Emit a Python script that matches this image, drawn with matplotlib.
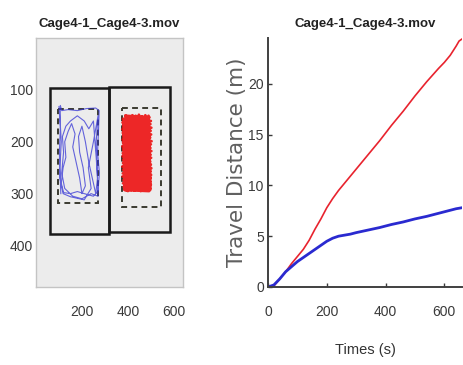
import numpy as np
import matplotlib
matplotlib.use("Agg")
import matplotlib.pyplot as plt
from matplotlib.patches import Rectangle

# ---- data ----
title = "Cage4-1_Cage4-3.mov"

# cages in image pixel coords (x0, y0, x1, y1)
cage_left = (60, 96, 318, 378)
cage_right = (318, 94, 585, 374)
zone_left = (96, 137, 272, 318)
zone_right = (374, 134, 544, 326)

# blue mouse trajectory (image coords)
blue_x = [108, 104, 110, 105, 106, 112, 140, 180, 220, 260, 275, 272, 268, 276, 270, 250,
          210, 180, 150, 120, 110, 118, 130, 125, 140, 155, 170, 160, 175, 190, 200, 215,
          205, 190, 185, 200, 215, 230, 245, 260, 268, 262, 255, 250, 230, 210, 180, 150,
          130, 115, 120, 112, 125, 160, 200, 240, 270, 266, 262, 270, 250, 228, 240, 210,
          150, 118, 104, 102, 106, 100]
blue_y = [300, 250, 200, 160, 130, 140, 138, 140, 136, 135, 140, 180, 220, 260, 295, 305,
          300, 296, 300, 298, 280, 250, 230, 200, 180, 165, 185, 210, 240, 270, 300, 285,
          250, 220, 190, 170, 200, 240, 270, 300, 270, 230, 190, 160, 175, 160, 150, 160,
          170, 190, 220, 260, 290, 305, 310, 300, 305, 250, 200, 150, 200, 250, 290, 312,
          306, 300, 270, 220, 170, 132]

# red mouse trajectory (image coords)
red_x1 = [390, 494, 379, 500, 377, 498, 380, 502, 376, 499, 378, 501, 381, 497, 377, 503,
          379, 500, 376, 498, 380, 502, 378, 499, 377, 501, 381, 497, 379, 500, 376, 502,
          380, 498, 378, 501, 377, 499, 381, 497, 379, 500, 382, 496, 386, 492]
red_y1 = [150, 153, 157, 160, 163, 166, 170, 173, 176, 179, 183, 186, 189, 192, 196, 199,
          202, 205, 209, 212, 215, 218, 222, 225, 228, 231, 235, 238, 241, 244, 248, 251,
          254, 257, 261, 264, 267, 270, 274, 277, 280, 283, 287, 290, 293, 295]
red_x2 = [498, 490, 484, 476, 470, 462, 456, 448, 442, 434, 428, 420, 414, 406, 400, 392, 386, 380]
red_y2 = [292, 150, 294, 149, 293, 151, 295, 148, 292, 150, 294, 149, 293, 152, 295, 150, 292, 156]

# travel distance over time
times = [0, 20, 40, 60, 80, 100, 120, 140, 160, 180, 200, 220, 240, 260, 280, 300,
         340, 380, 420, 460, 500, 540, 580, 600, 620, 640, 650, 660]
dist_red = [0, 0.1, 0.8, 1.5, 2.3, 3.0, 3.7, 4.6, 5.7, 6.7, 7.8, 8.7, 9.5, 10.2, 10.9, 11.6,
            13.0, 14.4, 15.9, 17.3, 18.8, 20.2, 21.5, 22.1, 22.8, 23.7, 24.2, 24.4]
dist_blue = [0, 0.2, 0.8, 1.5, 2.0, 2.5, 2.9, 3.3, 3.7, 4.1, 4.5, 4.8, 5.0, 5.1, 5.2, 5.35,
             5.6, 5.85, 6.15, 6.4, 6.7, 6.95, 7.25, 7.4, 7.55, 7.7, 7.75, 7.8]

narrow = ['Liberation Sans Narrow', 'Liberation Sans', 'DejaVu Sans']
plt.rcParams['font.family'] = narrow
tick_col = '#3a3a3a'

fig = plt.figure(figsize=(4.64, 3.65), dpi=100)

# ---- left panel: arena image with tracks ----
ax1 = fig.add_axes([36 / 464, 78 / 365, 147 / 464, 249 / 365])
ax1.set_facecolor('#ececec')
ax1.set_xlim(0, 640)
ax1.set_ylim(480, 0)
for r in (cage_left, cage_right):
    ax1.add_patch(Rectangle((r[0], r[1]), r[2] - r[0], r[3] - r[1], fill=False,
                            ec='#1a1a1a', lw=1.8))
for r in (zone_left, zone_right):
    ax1.add_patch(Rectangle((r[0], r[1]), r[2] - r[0], r[3] - r[1], fill=False,
                            ec='#3b3b30', lw=1.4, ls=(0, (3, 2.2))))
ax1.plot(np.concatenate([red_x1, red_x2]), np.concatenate([red_y1, red_y2]),
         color='#ee1111', lw=2.0, alpha=0.9)
ax1.plot(blue_x, blue_y, color='#3535d5', lw=0.8, alpha=0.75)
ax1.set_xticks([200, 400, 600])
ax1.set_yticks([100, 200, 300, 400])
ax1.tick_params(length=0, labelsize=10, colors=tick_col)
ax1.tick_params(axis='x', pad=13)
ax1.tick_params(axis='y', pad=2)
for s in ax1.spines.values():
    s.set_color('#c4c4c4')
    s.set_linewidth(1.0)
ax1.set_title(title, fontsize=9.5, fontweight='bold', color='#222222', pad=8)

# ---- right panel: travel distance ----
ax2 = fig.add_axes([268 / 464, 78 / 365, 194 / 464, 249 / 365])
ax2.plot(times, dist_red, color='#e8232e', lw=1.2)
ax2.plot(times, dist_blue, color='#2a2ad0', lw=2.0)
ax2.set_xlim(0, 660)
ax2.set_ylim(0, 24.5)
ax2.set_xticks([0, 200, 400, 600])
ax2.set_yticks([0, 5, 10, 15, 20])
ax2.spines['top'].set_visible(False)
ax2.spines['right'].set_visible(False)
for s in ('left', 'bottom'):
    ax2.spines[s].set_color('#404040')
    ax2.spines[s].set_linewidth(1.4)
ax2.tick_params(direction='in', length=3, width=1, labelsize=10, colors=tick_col)
ax2.tick_params(axis='x', pad=13)
ax2.tick_params(axis='y', pad=3)
ax2.set_xlabel('Times (s)', fontsize=10.5, color='#333333', labelpad=17)
ax2.set_ylabel('Travel Distance (m)', fontsize=15.5, color='#606060', labelpad=1,
               family='DejaVu Sans')
ax2.set_title(title, fontsize=9.5, fontweight='bold', color='#222222', pad=8)

fig.savefig('out.png', dpi=100)
